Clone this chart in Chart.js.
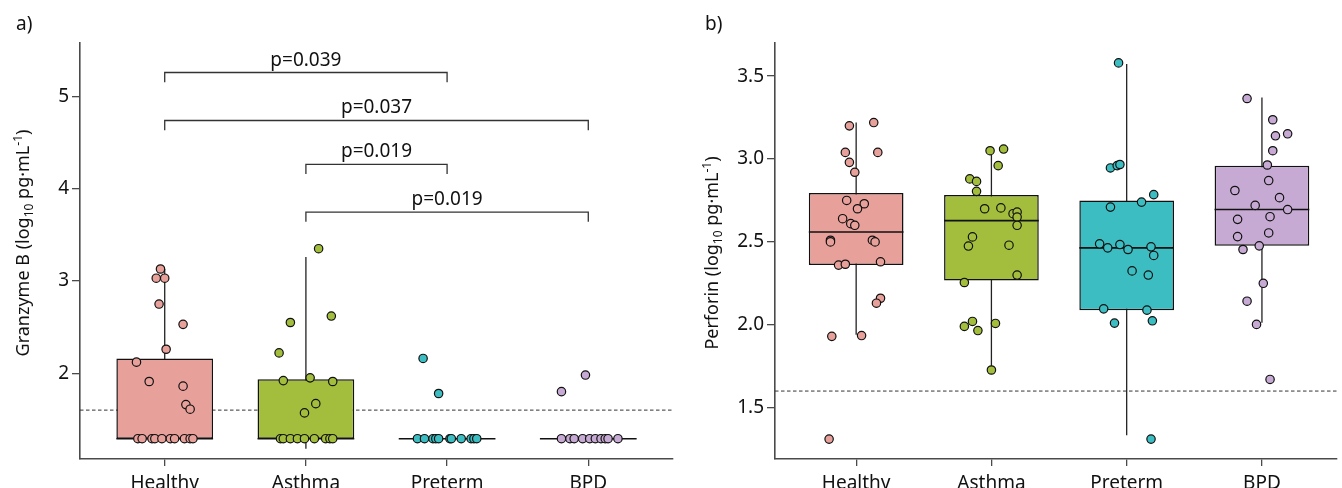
<!DOCTYPE html>
<html>
<head>
<meta charset="utf-8">
<script src="https://cdn.jsdelivr.net/npm/chart.js@4/dist/chart.umd.min.js"></script>
<style>
  body { margin: 0; background: #fff; width: 1342px; height: 488px; overflow: hidden; position: relative; }
  canvas { position: absolute; top: 0; }
  #chartA { left: 0; }
  #chartB { left: 680px; }
</style>
</head>
<body>
<canvas id="chartA" width="680" height="488"></canvas>
<canvas id="chartB" width="662" height="488"></canvas>
<script>
const groups = ['Healthy', 'Asthma', 'Preterm', 'BPD'];
const colors = ['#e8a09a', '#a3be3c', '#3bbdc1', '#c6aad3'];
const limitLine = 1.6;

// a) Granzyme B
const aTicks = [2, 3, 4, 5];
const aLo  = [1.29, 1.18, 1.29, 1.29];
const aQ1  = [1.29, 1.29, 1.29, 1.29];
const aMed = [1.29, 1.29, 1.29, 1.29];
const aQ3  = [2.16, 1.935, 1.29, 1.29];
const aHi  = [3.13, 3.26, 1.29, 1.29];
const aHealthy = [[0.97,3.13],[0.94,3.03],[1.00,3.03],[0.96,2.75],[1.13,2.53],[1.01,2.26],[0.80,2.12],[0.89,1.91],[1.13,1.86],[1.15,1.66],[1.18,1.61],
  [0.81,1.29],[0.84,1.29],[0.91,1.29],[0.93,1.29],[0.98,1.29],[1.04,1.29],[1.07,1.29],[1.14,1.29],[1.18,1.29],[1.20,1.29]];
const aAsthma = [[2.09,3.35],[2.18,2.62],[1.89,2.55],[1.81,2.22],[1.84,1.92],[2.03,1.95],[2.19,1.91],[2.07,1.67],[1.99,1.57],
  [1.82,1.29],[1.84,1.29],[1.89,1.29],[1.94,1.29],[1.99,1.29],[2.06,1.29],[2.14,1.29],[2.17,1.29],[2.19,1.29]];
const aPreterm = [[2.83,2.16],[2.94,1.78],
  [2.79,1.29],[2.84,1.29],[2.90,1.29],[2.92,1.29],[2.94,1.29],[3.02,1.29],[3.03,1.29],[3.10,1.29],[3.17,1.29],[3.19,1.29],[3.21,1.29]];
const aBPD = [[3.98,1.98],[3.81,1.80],
  [3.81,1.29],[3.87,1.29],[3.90,1.29],[3.96,1.29],[4.01,1.29],[4.05,1.29],[4.09,1.29],[4.12,1.29],[4.14,1.29],[4.21,1.29]];
const aPairs = [[1, 3], [1, 4], [2, 3], [2, 4]];
const aPairY = [5.26, 4.74, 4.265, 3.747];
const aPairP = ['p=0.039', 'p=0.037', 'p=0.019', 'p=0.019'];

// b) Perforin
const bTicks = [1.5, 2.0, 2.5, 3.0, 3.5];
const bLo  = [1.94, 1.727, 1.333, 2.012];
const bQ1  = [2.36, 2.267, 2.088, 2.476];
const bMed = [2.56, 2.628, 2.464, 2.695];
const bQ3  = [2.795, 2.783, 2.749, 2.96];
const bHi  = [3.22, 3.066, 3.574, 3.371];
const bHealthy = [[1.13,3.22],[0.95,3.20],[0.92,3.04],[1.16,3.04],[0.95,2.98],[0.99,2.92],[0.93,2.75],[1.06,2.73],[1.01,2.70],[0.90,2.64],
  [0.96,2.61],[0.99,2.60],[0.81,2.51],[0.81,2.50],[1.12,2.51],[1.14,2.50],[0.87,2.36],[0.92,2.365],[1.18,2.38],[1.18,2.16],[1.15,2.13],
  [0.82,1.93],[1.04,1.935],[0.80,1.31]];
const bAsthma = [[1.99,3.05],[2.09,3.06],[2.05,2.96],[1.84,2.88],[1.89,2.865],[1.89,2.805],[1.95,2.70],[2.07,2.705],[2.16,2.67],[2.19,2.68],
  [2.19,2.65],[2.19,2.60],[1.86,2.53],[1.83,2.475],[2.13,2.48],[2.19,2.30],[1.80,2.255],[1.86,2.02],[1.80,1.99],[1.90,1.965],[2.03,2.008],[2.00,1.727]];
const bPreterm = [[2.94,3.58],[2.88,2.946],[2.93,2.96],[2.95,2.967],[3.20,2.785],[3.11,2.74],[2.88,2.71],[2.80,2.488],[2.86,2.464],[2.95,2.484],
  [3.01,2.454],[3.18,2.47],[3.20,2.418],[3.04,2.325],[3.16,2.30],[2.83,2.096],[3.15,2.088],[2.91,2.01],[3.19,2.024],[3.18,1.31]];
const bBPD = [[3.89,3.365],[4.08,3.237],[4.10,3.14],[4.19,3.152],[4.08,3.05],[4.04,2.964],[4.05,2.87],[3.80,2.81],[4.13,2.767],[3.95,2.72],
  [4.19,2.695],[3.82,2.636],[4.06,2.652],[3.82,2.532],[4.05,2.554],[3.86,2.454],[3.98,2.476],[4.01,2.25],[3.89,2.142],[3.96,2.002],[4.06,1.67]];

const FONT = '"Noto Sans", sans-serif';
const INK = '#111';
const AXIS = '#4a4a4a';

const boxPlugin = {
  id: 'boxParts',
  beforeDatasetsDraw(chart, args, opts) {
    const ctx = chart.ctx, xs = chart.scales.x, ys = chart.scales.y, area = chart.chartArea;
    ctx.save();
    // detection limit
    ctx.strokeStyle = '#333';
    ctx.lineWidth = 1;
    ctx.setLineDash([3.5, 2.5]);
    ctx.beginPath();
    ctx.moveTo(area.left, ys.getPixelForValue(limitLine));
    ctx.lineTo(area.right, ys.getPixelForValue(limitLine));
    ctx.stroke();
    ctx.setLineDash([]);
    // whiskers
    ctx.strokeStyle = '#222';
    ctx.lineWidth = 1.3;
    opts.lo.forEach((lo, i) => {
      const x = xs.getPixelForValue(i + 1);
      ctx.beginPath();
      ctx.moveTo(x, ys.getPixelForValue(lo));
      ctx.lineTo(x, ys.getPixelForValue(opts.hi[i]));
      ctx.stroke();
    });
    // significance brackets
    if (opts.pairs) {
      ctx.strokeStyle = '#333';
      ctx.lineWidth = 1.3;
      ctx.fillStyle = INK;
      ctx.font = '19px ' + FONT;
      ctx.textAlign = 'center';
      ctx.textBaseline = 'alphabetic';
      opts.pairs.forEach((p, i) => {
        const x1 = xs.getPixelForValue(p[0]), x2 = xs.getPixelForValue(p[1]);
        const y = ys.getPixelForValue(opts.pairY[i]);
        const yEnd = ys.getPixelForValue(opts.pairY[i] - 0.105);
        ctx.beginPath();
        ctx.moveTo(x1, yEnd);
        ctx.lineTo(x1, y);
        ctx.lineTo(x2, y);
        ctx.lineTo(x2, yEnd);
        ctx.stroke();
        ctx.fillText(opts.pairP[i], (x1 + x2) / 2, y - 7);
      });
    }
    ctx.restore();
  },
  afterDatasetDraw(chart, args, opts) {
    if (args.index !== 0) return;
    const ctx = chart.ctx, ys = chart.scales.y;
    const bars = chart.getDatasetMeta(0).data;
    ctx.save();
    ctx.strokeStyle = '#111';
    ctx.lineWidth = 1.6;
    opts.med.forEach((m, i) => {
      const b = bars[i];
      const y = ys.getPixelForValue(m);
      ctx.beginPath();
      ctx.moveTo(b.x - b.width / 2, y);
      ctx.lineTo(b.x + b.width / 2, y);
      ctx.stroke();
    });
    ctx.restore();
  },
  afterDraw(chart, args, opts) {
    const ctx = chart.ctx, area = chart.chartArea;
    ctx.save();
    ctx.fillStyle = INK;
    ctx.textBaseline = 'alphabetic';
    ctx.textAlign = 'left';
    ctx.font = '19px ' + FONT;
    ctx.fillText(opts.panel, opts.panelX, 30);
    // rotated axis title with sub/superscript
    ctx.translate(opts.titleX, opts.titleY);
    ctx.rotate(-Math.PI / 2);
    let total = 0;
    opts.title.forEach(p => { ctx.font = p[1] + 'px ' + FONT; total += ctx.measureText(p[0]).width; });
    let cx = -total / 2;
    opts.title.forEach(p => {
      ctx.font = p[1] + 'px ' + FONT;
      ctx.fillText(p[0], cx, p[2]);
      cx += ctx.measureText(p[0]).width;
    });
    ctx.restore();
  }
};

function makeChart(id, cfg) {
  const datasets = [{
    type: 'bar',
    order: 10,
    data: groups.map((g, i) => ({ x: i + 1, y: [cfg.q1[i], cfg.q3[i]] })),
    backgroundColor: colors,
    borderColor: '#111',
    borderWidth: 1.5,
    borderSkipped: false,
    barPercentage: cfg.barPct,
    categoryPercentage: 1
  }];
  cfg.points.forEach((pts, i) => {
    datasets.push({
      type: 'scatter',
      order: i,
      data: pts.map(p => ({ x: p[0], y: p[1] })),
      backgroundColor: colors[i],
      borderColor: '#111',
      borderWidth: 1.2,
      pointRadius: 4.2
    });
  });
  return new Chart(document.getElementById(id), {
    type: 'scatter',
    data: { datasets },
    plugins: [boxPlugin],
    options: {
      responsive: false,
      animation: false,
      layout: { padding: { top: 43, right: cfg.padRight, left: 0, bottom: 0 } },
      plugins: {
        legend: { display: false },
        tooltip: { enabled: false },
        boxParts: {
          lo: cfg.lo, hi: cfg.hi, med: cfg.med,
          pairs: cfg.pairs, pairY: cfg.pairY, pairP: cfg.pairP,
          panel: cfg.panel, panelX: cfg.panelX, title: cfg.title, titleX: cfg.titleX, titleY: cfg.titleY
        }
      },
      scales: {
        x: {
          type: 'linear',
          min: 0.4,
          max: cfg.xMax,
          offset: false,
          afterBuildTicks: s => { s.ticks = groups.map((g, i) => ({ value: i + 1 })); },
          afterFit: s => { s.height = 29; },
          ticks: {
            callback: v => groups[v - 1],
            font: { family: FONT, size: 19 },
            color: INK,
            padding: 6,
            maxRotation: 0
          },
          grid: { offset: false, drawOnChartArea: false, drawTicks: true, tickLength: 7, color: AXIS, lineWidth: 1.3 },
          border: { display: true, color: AXIS, width: 1.6 }
        },
        y: {
          min: cfg.yMin,
          max: cfg.yMax,
          afterBuildTicks: s => { s.ticks = cfg.ticks.map(v => ({ value: v })); },
          afterFit: s => { s.width = cfg.yWidth; },
          ticks: {
            callback: v => cfg.fmt(v),
            font: { family: FONT, size: 19 },
            color: INK,
            padding: 3
          },
          grid: { drawOnChartArea: false, drawTicks: true, tickLength: 8, color: AXIS, lineWidth: 1.3 },
          border: { display: true, color: AXIS, width: 1.6 }
        }
      }
    }
  });
}

makeChart('chartA', {
  q1: aQ1, q3: aQ3, med: aMed, lo: aLo, hi: aHi,
  points: [aHealthy, aAsthma, aPreterm, aBPD],
  pairs: aPairs, pairY: aPairY, pairP: aPairP,
  ticks: aTicks, fmt: v => String(v),
  yMin: 1.07, yMax: 5.58, xMax: 4.6,
  yWidth: 80, padRight: 7, barPct: 0.685,
  panel: 'a)', panelX: 16, titleX: 29, titleY: 243,
  title: [['Granzyme B (log', 18, 0], ['10', 12, 4], [' pg\u00b7mL', 18, 0], ['-1', 12, -7], [')', 18, 0]]
});

makeChart('chartB', {
  q1: bQ1, q3: bQ3, med: bMed, lo: bLo, hi: bHi,
  points: [bHealthy, bAsthma, bPreterm, bBPD],
  pairs: null,
  ticks: bTicks, fmt: v => v.toFixed(1),
  yMin: 1.19, yMax: 3.70, xMax: 4.552,
  yWidth: 95, padRight: 0, barPct: 0.7,
  panel: 'b)', panelX: 25, titleX: 38, titleY: 253,
  title: [['Perforin (log', 18, 0], ['10', 12, 4], [' pg\u00b7mL', 18, 0], ['-1', 12, -7], [')', 18, 0]]
});
</script>
</body>
</html>
